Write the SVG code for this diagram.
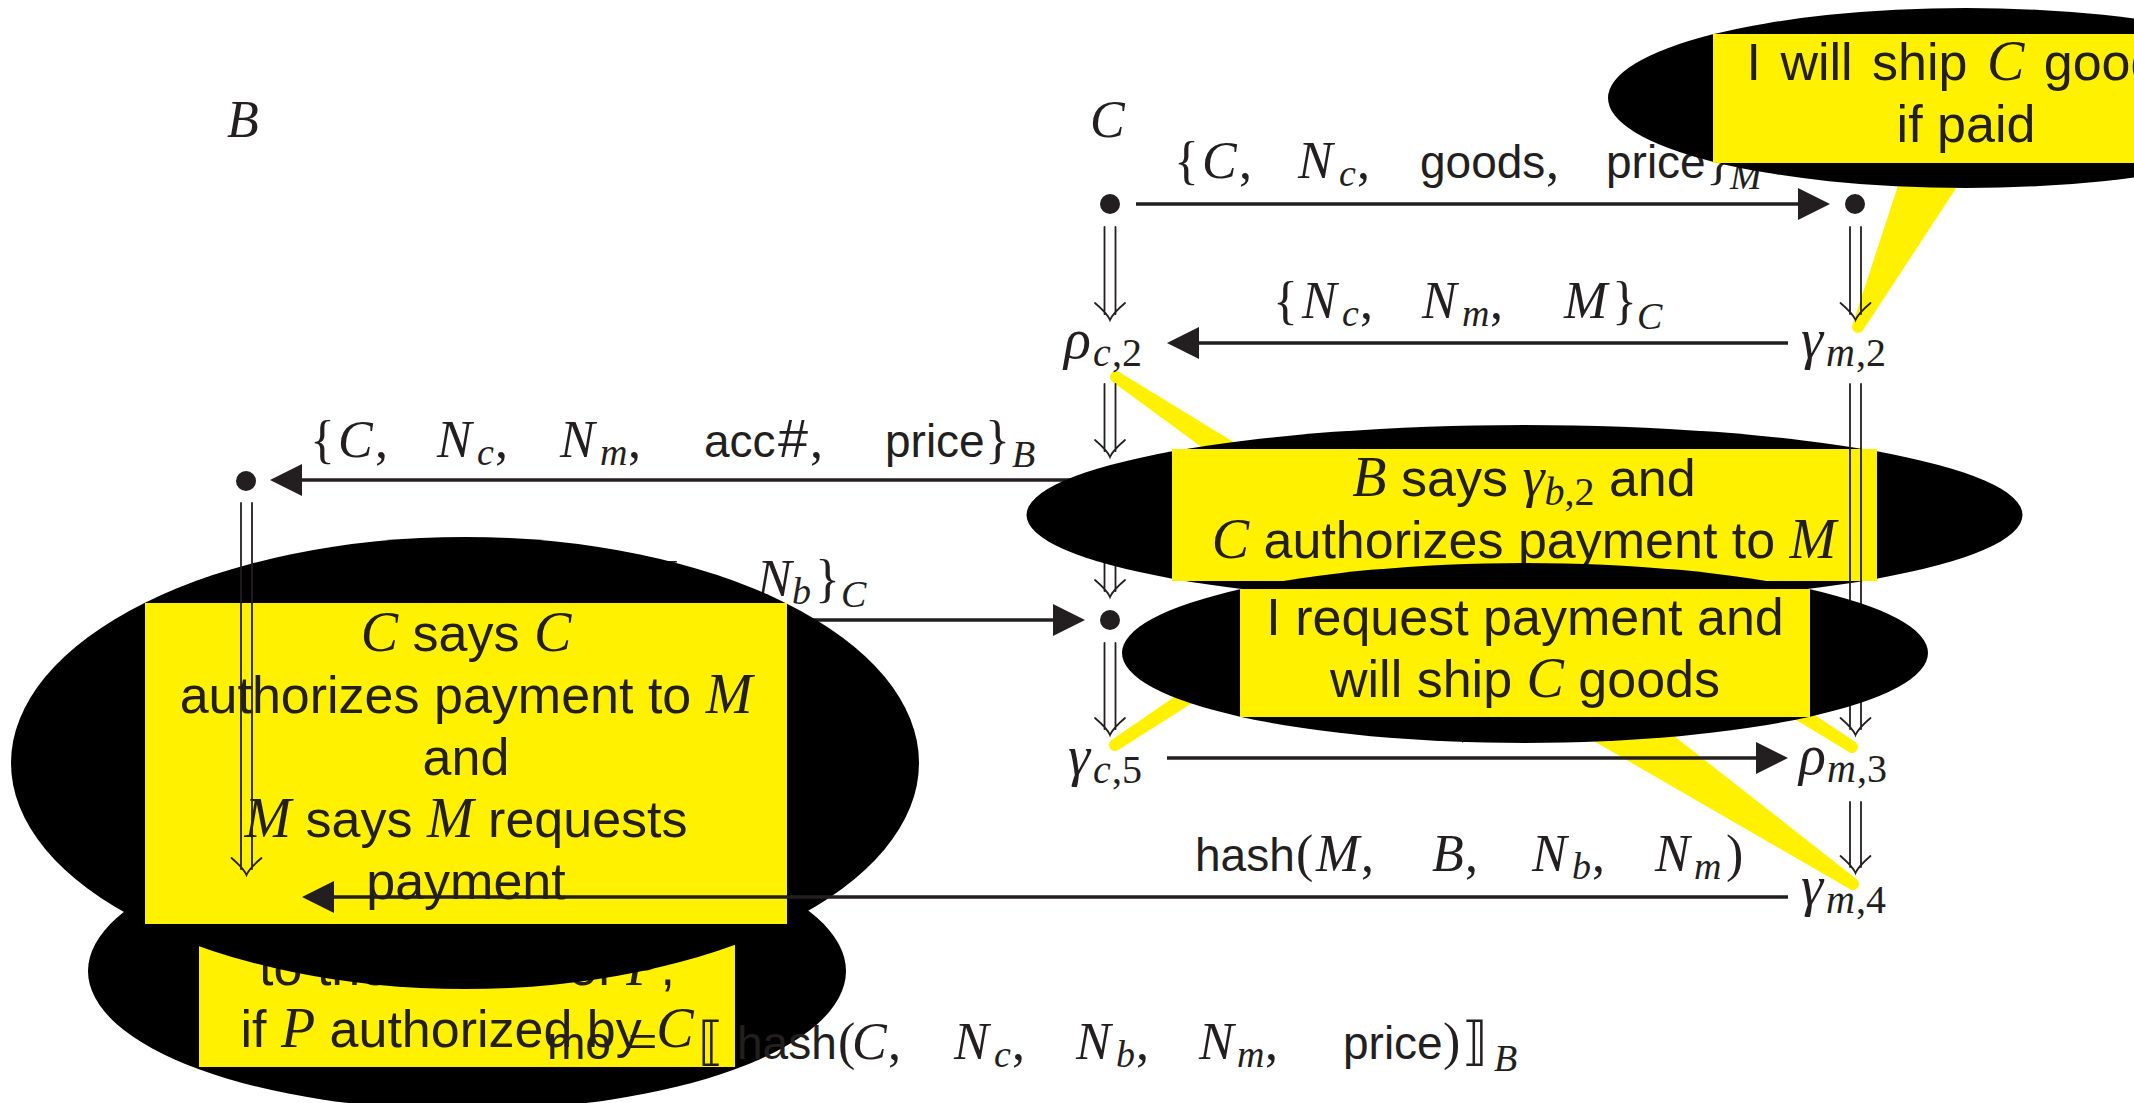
<svg xmlns="http://www.w3.org/2000/svg" width="2134" height="1103" viewBox="0 0 2134 1103">
  <style>
    .t { fill: #231F20; }
    .sf { font-family: "Liberation Sans", Arial, sans-serif; }
    .mi { font-family: "Liberation Serif", "Times New Roman", serif; font-style: italic; }
    .rm { font-family: "Liberation Serif", "Times New Roman", serif; }
    .bk { font-family: "DejaVu Serif", "DejaVu Sans", serif; }
    .L { font-size: 46px; }
    .Lm { font-size: 52px; }
    .Ls { font-size: 38px; }
    .G { font-size: 56px; }
    .Gs { font-size: 40px; }
    .N { font-size: 52px; }
    .Nm { font-size: 56px; }
    .Ns { font-size: 40px; }
    .ln { stroke: #231F20; stroke-width: 3.3; fill: none; }
    .dbl { stroke: #231F20; stroke-width: 1.8; fill: none; stroke-linecap: round; }
    .dot { fill: #231F20; }
    .blob { fill: #000000; }
    .box { fill: #FFF100; }
    .tail { fill: #FFF100; stroke: #FFF100; stroke-width: 12; stroke-linejoin: round; }
  </style>
  <defs>
    <marker id="ah" markerUnits="userSpaceOnUse" markerWidth="34" markerHeight="34" refX="28" refY="16" orient="auto">
      <path d="M0,0 L32,16 L0,32 Z" fill="#231F20"/>
    </marker>
  </defs>

  <rect width="2134" height="1103" fill="#FFFFFF"/>

  <!-- callout pointers (drawn beneath everything else) -->
  <g id="callout-tails">
    <polygon class="tail" points="1858,327 1916,150 1974,150"/>
    <polygon class="tail" points="1116,377 1281,478 1273,492"/>
    <polygon class="tail" points="1115,745 1279,641 1275,635"/>
    <polygon class="tail" points="1852,747 1732,667 1729,672"/>
    <polygon class="tail" points="1853,884 1621,702 1597,736"/>
  </g>

  <!-- messages partly covered by the callouts -->
  <g id="connectors-under">
    <line class="ln" x1="1100" y1="480" x2="274" y2="480" marker-end="url(#ah)"/>
    <line class="ln" x1="262" y1="620" x2="1081" y2="620" marker-end="url(#ah)"/>
    <path class="dbl" d="M1104.5,503V591M1115.5,503V591M1095,580C1102,586 1108,592 1110,597C1112,592 1118,586 1125,580"/>
  </g>
  <g id="labels-under">
    <text class="t">
      <tspan class="rm Lm" x="1174" y="178">{</tspan><tspan class="mi Lm" x="1202" y="178">C</tspan><tspan class="rm Lm" x="1239" y="178">,</tspan><tspan class="mi Lm" x="1298" y="178">N</tspan><tspan class="mi Ls" x="1339" y="186">c</tspan><tspan class="rm Lm" x="1357" y="178">,</tspan><tspan class="sf L" x="1420" y="178">goods</tspan><tspan class="rm Lm" x="1546" y="178">,</tspan><tspan class="sf L" x="1606" y="178">price</tspan><tspan class="rm Lm" x="1706" y="178">}</tspan><tspan class="mi Ls" x="1730" y="189">M</tspan>
    </text>
    <text class="t">
      <tspan class="rm Lm" x="505" y="596">{</tspan><tspan class="sf L" x="530" y="596">mo</tspan><tspan class="rm Lm" x="594" y="596">,</tspan><tspan class="mi Lm" x="640" y="596">N</tspan><tspan class="mi Ls" x="679" y="604">c</tspan><tspan class="rm Lm" x="697" y="596">,</tspan><tspan class="mi Lm" x="757" y="596">N</tspan><tspan class="mi Ls" x="792" y="604">b</tspan><tspan class="rm Lm" x="815" y="596">}</tspan><tspan class="mi Ls" x="841" y="607">C</tspan>
    </text>
    <text class="t">
      <tspan class="sf L" x="1396" y="734">mo</tspan><tspan class="rm Lm" x="1460" y="734">,</tspan><tspan class="mi Lm" x="1494" y="734">N</tspan><tspan class="mi Ls" x="1534" y="742">b</tspan>
    </text>
  </g>

  <!-- callouts -->
  <g id="callout-pay">
    <ellipse class="blob" cx="467" cy="971" rx="379" ry="139"/>
    <rect class="box" x="199" y="875" width="536" height="192"/>
    <text class="t sf N" x="467" y="985" text-anchor="middle">to the bearer of <tspan class="mi Nm">P</tspan>,</text>
    <text class="t sf N" x="467" y="1047" text-anchor="middle">if <tspan class="mi Nm">P</tspan> authorized by <tspan class="mi Nm">C</tspan></text>
  </g>
  <g id="callout-says">
    <ellipse class="blob" cx="465" cy="763" rx="454" ry="226"/>
    <rect class="box" x="145" y="603" width="642" height="321"/>
    <text class="t sf N" x="466" y="651" text-anchor="middle"><tspan class="mi Nm">C</tspan> says <tspan class="mi Nm">C</tspan></text>
    <text class="t sf N" x="466" y="713" text-anchor="middle">authorizes payment to <tspan class="mi Nm">M</tspan></text>
    <text class="t sf N" x="466" y="775" text-anchor="middle">and</text>
    <text class="t sf N" x="466" y="837" text-anchor="middle"><tspan class="mi Nm">M</tspan> says <tspan class="mi Nm">M</tspan> requests</text>
    <text class="t sf N" x="466" y="899" text-anchor="middle">payment</text>
  </g>
  <g id="callout-ship">
    <ellipse class="blob" cx="1966" cy="98" rx="358" ry="90"/>
    <rect class="box" x="1713" y="34" width="506" height="129"/>
    <text class="t sf N" x="1966" y="80" text-anchor="middle" word-spacing="5">I will ship <tspan class="mi Nm">C</tspan> goods</text>
    <text class="t sf N" x="1966" y="142" text-anchor="middle">if paid</text>
  </g>
  <g id="callout-authorize">
    <ellipse class="blob" cx="1524.5" cy="515" rx="498" ry="90"/>
    <rect class="box" x="1172" y="449" width="705" height="132"/>
    <text class="t sf N" x="1524" y="496" text-anchor="middle"><tspan class="mi Nm">B</tspan> says <tspan class="mi Nm">γ</tspan><tspan class="mi Ns" dy="9">b</tspan><tspan class="rm Ns">,2</tspan><tspan dy="-9"> and</tspan></text>
    <text class="t sf N" x="1524" y="558" text-anchor="middle"><tspan class="mi Nm">C</tspan> authorizes payment to <tspan class="mi Nm">M</tspan></text>
  </g>

  <!-- strand edges and messages -->
  <g id="connectors">
    <line class="ln" x1="1136" y1="204" x2="1826" y2="204" marker-end="url(#ah)"/>
    <line class="ln" x1="1788" y1="343" x2="1171" y2="343" marker-end="url(#ah)"/>
    <line class="ln" x1="1167" y1="758" x2="1784" y2="758" marker-end="url(#ah)"/>
    <line class="ln" x1="1788" y1="897" x2="306" y2="897" marker-end="url(#ah)"/>
    <path class="dbl" d="M1104.5,227V314M1115.5,227V314M1095,303C1102,309 1108,315 1110,320C1112,315 1118,309 1125,303"/>
    <path class="dbl" d="M1104.5,384V451M1115.5,384V451M1095,440C1102,446 1108,452 1110,457C1112,452 1118,446 1125,440"/>
    <path class="dbl" d="M1104.5,643V729M1115.5,643V729M1095,718C1102,724 1108,730 1110,735C1112,730 1118,724 1125,718"/>
    <path class="dbl" d="M1850,227V314M1861,227V314M1840.5,303C1847.5,309 1853.5,315 1855.5,320C1857.5,315 1863.5,309 1870.5,303"/>
    <path class="dbl" d="M1850,384V729M1861,384V729M1840.5,718C1847.5,724 1853.5,730 1855.5,735C1857.5,730 1863.5,724 1870.5,718"/>
    <path class="dbl" d="M1850,802V867M1861,802V867M1840.5,856C1847.5,862 1853.5,868 1855.5,873C1857.5,868 1863.5,862 1870.5,856"/>
    <path class="dbl" d="M241,503V869M252,503V869M231.5,858C238.5,864 244.5,870 246.5,875C248.5,870 254.5,864 261.5,858"/>
  </g>

  <!-- message labels -->
  <g id="message-labels">
    <text class="t">
      <tspan class="rm Lm" x="1273" y="318">{</tspan><tspan class="mi Lm" x="1302" y="318">N</tspan><tspan class="mi Ls" x="1342" y="326">c</tspan><tspan class="rm Lm" x="1360" y="318">,</tspan><tspan class="mi Lm" x="1422" y="318">N</tspan><tspan class="mi Ls" x="1462" y="326">m</tspan><tspan class="rm Lm" x="1490" y="318">,</tspan><tspan class="mi Lm" x="1564" y="318">M</tspan><tspan class="rm Lm" x="1612" y="318">}</tspan><tspan class="mi Ls" x="1637" y="329">C</tspan>
    </text>
    <text class="t">
      <tspan class="rm Lm" x="310" y="457">{</tspan><tspan class="mi Lm" x="338" y="457">C</tspan><tspan class="rm Lm" x="375" y="457">,</tspan><tspan class="mi Lm" x="437" y="457">N</tspan><tspan class="mi Ls" x="477" y="465">c</tspan><tspan class="rm Lm" x="495" y="457">,</tspan><tspan class="mi Lm" x="560" y="457">N</tspan><tspan class="mi Ls" x="600" y="465">m</tspan><tspan class="rm Lm" x="628" y="457">,</tspan><tspan class="sf L" x="704" y="457">acc</tspan><tspan class="sf" font-size="54" x="778" y="457">#</tspan><tspan class="rm Lm" x="810" y="457">,</tspan><tspan class="sf L" x="885" y="457">price</tspan><tspan class="rm Lm" x="985" y="457">}</tspan><tspan class="mi Ls" x="1012" y="467">B</tspan>
    </text>
    <text class="t">
      <tspan class="sf L" x="1195" y="871">hash</tspan><tspan class="rm Lm" x="1296" y="871">(</tspan><tspan class="mi Lm" x="1316" y="871">M</tspan><tspan class="rm Lm" x="1361" y="871">,</tspan><tspan class="mi Lm" x="1432" y="871">B</tspan><tspan class="rm Lm" x="1465" y="871">,</tspan><tspan class="mi Lm" x="1532" y="871">N</tspan><tspan class="mi Ls" x="1572" y="879">b</tspan><tspan class="rm Lm" x="1592" y="871">,</tspan><tspan class="mi Lm" x="1655" y="871">N</tspan><tspan class="mi Ls" x="1694" y="879">m</tspan><tspan class="rm Lm" x="1726" y="871">)</tspan>
    </text>
  </g>

  <!-- strand heads -->
  <g id="strand-B">
    <text class="t mi Lm" x="227" y="137">B</text>
  </g>
  <g id="strand-C">
    <text class="t mi Lm" x="1090" y="137">C</text>
  </g>

  <!-- nodes -->
  <g id="node-c1"><circle class="dot" cx="1110" cy="204" r="10"/></g>
  <g id="node-m1"><circle class="dot" cx="1855" cy="204" r="10"/></g>
  <g id="node-b1"><circle class="dot" cx="246" cy="481" r="10"/></g>
  <g id="node-c4"><circle class="dot" cx="1110" cy="620" r="10"/></g>
  <g id="node-rho-c2">
    <text class="t"><tspan class="mi G" x="1064" y="358">ρ</tspan><tspan class="mi Gs" x="1093" y="366">c</tspan><tspan class="rm Gs" x="1112" y="366">,2</tspan></text>
  </g>
  <g id="node-gamma-m2">
    <text class="t"><tspan class="mi G" x="1801" y="358">γ</tspan><tspan class="mi Gs" x="1826" y="366">m</tspan><tspan class="rm Gs" x="1856" y="366">,2</tspan></text>
  </g>
  <g id="node-gamma-c5">
    <text class="t"><tspan class="mi G" x="1068" y="775">γ</tspan><tspan class="mi Gs" x="1093" y="783">c</tspan><tspan class="rm Gs" x="1112" y="783">,5</tspan></text>
  </g>
  <g id="node-rho-m3">
    <text class="t"><tspan class="mi G" x="1799" y="774">ρ</tspan><tspan class="mi Gs" x="1827" y="782">m</tspan><tspan class="rm Gs" x="1857" y="782">,3</tspan></text>
  </g>
  <g id="node-gamma-m4">
    <text class="t"><tspan class="mi G" x="1801" y="905">γ</tspan><tspan class="mi Gs" x="1826" y="913">m</tspan><tspan class="rm Gs" x="1856" y="913">,4</tspan></text>
  </g>

  <!-- callout placed over the merchant strand -->
  <g id="callout-request">
    <ellipse class="blob" cx="1525" cy="653" rx="403" ry="90"/>
    <rect class="box" x="1240" y="589" width="570" height="128"/>
    <text class="t sf N" x="1525" y="635" text-anchor="middle">I request payment and</text>
    <text class="t sf N" x="1525" y="697" text-anchor="middle">will ship <tspan class="mi Nm">C</tspan> goods</text>
  </g>

  <!-- money order definition -->
  <g id="money-order">
    <text class="t">
      <tspan class="sf L" x="547" y="1059">mo</tspan><tspan class="rm Lm" x="628" y="1059">=</tspan><tspan class="bk" font-size="52" x="698" y="1059">⟦</tspan><tspan class="sf L" x="737" y="1059">hash</tspan><tspan class="rm Lm" x="838" y="1059">(</tspan><tspan class="mi Lm" x="852" y="1059">C</tspan><tspan class="rm Lm" x="888" y="1059">,</tspan><tspan class="mi Lm" x="954" y="1059">N</tspan><tspan class="mi Ls" x="994" y="1067">c</tspan><tspan class="rm Lm" x="1012" y="1059">,</tspan><tspan class="mi Lm" x="1076" y="1059">N</tspan><tspan class="mi Ls" x="1116" y="1067">b</tspan><tspan class="rm Lm" x="1136" y="1059">,</tspan><tspan class="mi Lm" x="1199" y="1059">N</tspan><tspan class="mi Ls" x="1237" y="1067">m</tspan><tspan class="rm Lm" x="1265" y="1059">,</tspan><tspan class="sf L" x="1343" y="1059">price</tspan><tspan class="rm Lm" x="1443" y="1059">)</tspan><tspan class="bk" font-size="52" x="1462" y="1059">⟧</tspan><tspan class="mi Ls" x="1494" y="1071">B</tspan>
    </text>
  </g>
</svg>
